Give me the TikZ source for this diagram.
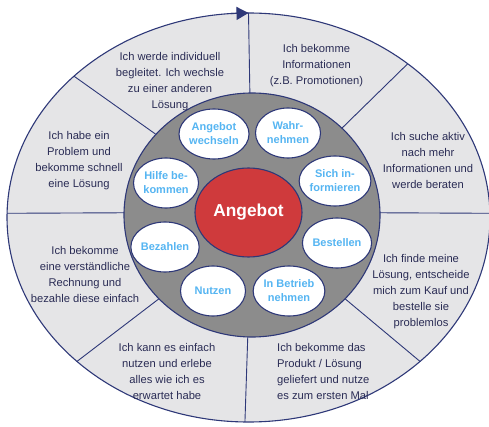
\documentclass[tikz,border=0pt]{standalone}
\usepackage{fontspec}
\setmainfont{Liberation Sans}
\usetikzlibrary{shapes.geometric,arrows.meta}
\definecolor{navy}{HTML}{2E3878}
\definecolor{ringgray}{HTML}{E5E5E7}
\definecolor{hubgray}{HTML}{8C8C8C}
\definecolor{offerred}{HTML}{CF3A3C}
\definecolor{stepblue}{HTML}{55B5F2}
\definecolor{txt}{HTML}{2A2C55}
\begin{document}
\begin{tikzpicture}[x=1pt,y=-1pt,
  oval/.style={ellipse,draw=navy,line width=1.1pt,inner sep=0pt,outer sep=0pt},
  bubble/.style={oval,fill=white,minimum width=65pt,minimum height=50pt,
    text=stepblue,font=\bfseries\fontsize{11}{14}\selectfont,align=center},
  phase/.style={inner sep=0pt,text=txt,font=\fontsize{11.2}{16}\selectfont,align=center},
  divider/.style={draw=navy,line width=0.9pt}]
\useasboundingbox (0,0) rectangle (489,427);

% outer ring and central hub
\node[oval,fill=ringgray,minimum width=483pt,minimum height=409pt] (ring) at (248.5,217.5) {};
\node[oval,fill=hubgray,minimum width=256pt,minimum height=244pt] (hub) at (252,215) {};

% dividers between the phases
\draw[divider] (hub.91)  -- (ring.90);
\draw[divider] (hub.140) -- (ring.141);
\draw[divider] (hub.44)  -- (ring.44);
\draw[divider] (hub.179) -- (ring.179);
\draw[divider] (hub.1)   -- (ring.1);
\draw[divider] (hub.222) -- (ring.220.5);
\draw[divider] (hub.318) -- (ring.320);
\draw[divider] (hub.268) -- (ring.269.6);

% direction arrow on the rim
\draw[navy,line width=1.1pt,-{Triangle[length=12pt,width=13pt]}] (ring.95) -- (ring.90);

% centre
\node[oval,fill=offerred,minimum width=107pt,minimum height=89pt,
  text=white,font=\bfseries\fontsize{17.3}{20}\selectfont] (offer) at (248.5,212.5) {Angebot};

% steps around the centre
\node[bubble] (wechseln) at (214,134) {Angebot\\wechseln};
\node[bubble] (wahr)     at (288,133) {Wahr-\\nehmen};
\node[bubble] (info)     at (335,181) {Sich in-\\formieren};
\node[bubble] (bestellen) at (337,243) {Bestellen};
\node[bubble] (betrieb)  at (289,291) {In Betrieb\\nehmen};
\node[bubble] (nutzen)   at (213,291) {Nutzen};
\node[bubble] (bezahlen) at (165,247) {Bezahlen};
\node[bubble] (hilfe)    at (166,183) {Hilfe be-\\kommen};

% phase descriptions in the ring
\node[phase] (t1) at (170,81.5) {Ich werde individuell\\begleitet. Ich wechsle\\zu einer anderen\\Lösung};
\node[phase] (t2) at (316.5,65.7) {Ich bekomme\\Informationen\\(z.B. Promotionen)};
\node[phase] (t3) at (428,160) {Ich suche aktiv\\nach mehr\\Informationen und\\werde beraten};
\node[phase] (t4) at (421,291.4) {Ich finde meine\\Lösung, entscheide\\mich zum Kauf und\\bestelle sie\\problemlos};
\node[phase,anchor=west,align=left] (t5) at (277,371.5) {Ich bekomme das\\Produkt / Lösung\\geliefert und nutze\\es zum ersten Mal};
\node[phase] (t6) at (167,371.5) {Ich kann es einfach\\nutzen und erlebe\\alles wie ich es\\erwartet habe};
\node[phase] (t7) at (85,274) {Ich bekomme\\eine verständliche\\Rechnung und\\bezahle diese einfach};
\node[phase] (t8) at (79,161) {Ich habe ein\\Problem und\\bekomme schnell\\eine Lösung};
\end{tikzpicture}
\end{document}
